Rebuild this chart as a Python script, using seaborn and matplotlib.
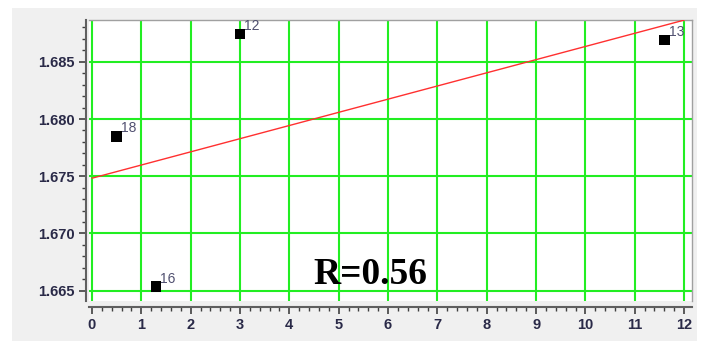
import numpy as np
import pandas as pd
import seaborn as sns
import matplotlib
matplotlib.use("Agg")
import matplotlib.pyplot as plt
from matplotlib.patches import Rectangle
from matplotlib.ticker import MultipleLocator, FormatStrFormatter

# data
x_vals = [0.5, 1.3, 3.0, 11.6]
y_vals = [1.6785, 1.66535, 1.68743, 1.68691]
point_labels = ["18", "16", "12", "13"]
r_text = "R=0.56"
x_ticks = list(range(0, 13))
y_ticks = [1.665, 1.670, 1.675, 1.680, 1.685]

df = pd.DataFrame({"x": x_vals, "y": y_vals, "label": point_labels})

sns.set_style("white")
W, H = 708, 341
fig = plt.figure(figsize=(W / 100, H / 100), dpi=100)
fig.patch.set_facecolor("white")
fig.patches.append(Rectangle((12 / W, 0), (697 - 12) / W, (H - 8) / H,
                             transform=fig.transFigure, facecolor="#f0f0f0",
                             edgecolor="none", zorder=-10))

ax = fig.add_axes([89 / W, 1 - 301 / H, (692 - 89) / W, (301 - 20) / H])
ax.set_facecolor("white")
ax.set_xlim(x_ticks[0], x_ticks[-1])

sns.regplot(data=df, x="x", y="y", ci=None, ax=ax, truncate=False, marker="s",
            color="black",
            scatter_kws=dict(s=60, color="black", alpha=1.0, zorder=5, edgecolor="none"),
            line_kws=dict(color="#ff3030", lw=1.0, zorder=4))

ax.set_xlim(-0.06, 12.16)
ax.set_ylim(1.6641, 1.68865)

ax.set_xticks(x_ticks)
ax.set_yticks(y_ticks)
ax.xaxis.set_minor_locator(MultipleLocator(0.2))
ax.yaxis.set_minor_locator(MultipleLocator(0.001))
ax.yaxis.set_major_formatter(FormatStrFormatter("%.3f"))
ax.grid(True, which="major", color="#22ee22", lw=1.5)
ax.set_axisbelow(True)
ax.set_xlabel("")
ax.set_ylabel("")

for s in ["top", "right"]:
    ax.spines[s].set_color("#a0a0a0")
    ax.spines[s].set_linewidth(1.0)
ax.spines["left"].set_position(("outward", 2))
ax.spines["bottom"].set_position(("outward", 4))
for s in ["left", "bottom"]:
    ax.spines[s].set_color("#606060")
    ax.spines[s].set_linewidth(1.5)

ax.tick_params(axis="both", which="major", direction="out", length=5, width=1.2,
               color="#404040", labelsize=10.5, labelcolor="#2a2a48")
ax.tick_params(axis="both", which="minor", direction="out", length=3, width=1.0,
               color="#404040")
ax.tick_params(axis="both", which="both", bottom=True, left=True, top=False, right=False)
for lab in ax.get_xticklabels() + ax.get_yticklabels():
    lab.set_fontweight("bold")
    lab.set_family("Liberation Sans")

for xv, yv, lb in zip(x_vals, y_vals, point_labels):
    ax.annotate(lb, (xv, yv), xytext=(3, 3), textcoords="offset points",
                fontsize=10, color="#505070", family="Liberation Sans", zorder=6)

ax.text(0.372, 0.06, r_text, transform=ax.transAxes, fontsize=27,
        fontweight="bold", family="Liberation Serif", color="black", zorder=7)

fig.savefig("out.png", dpi=100, facecolor=fig.get_facecolor())
